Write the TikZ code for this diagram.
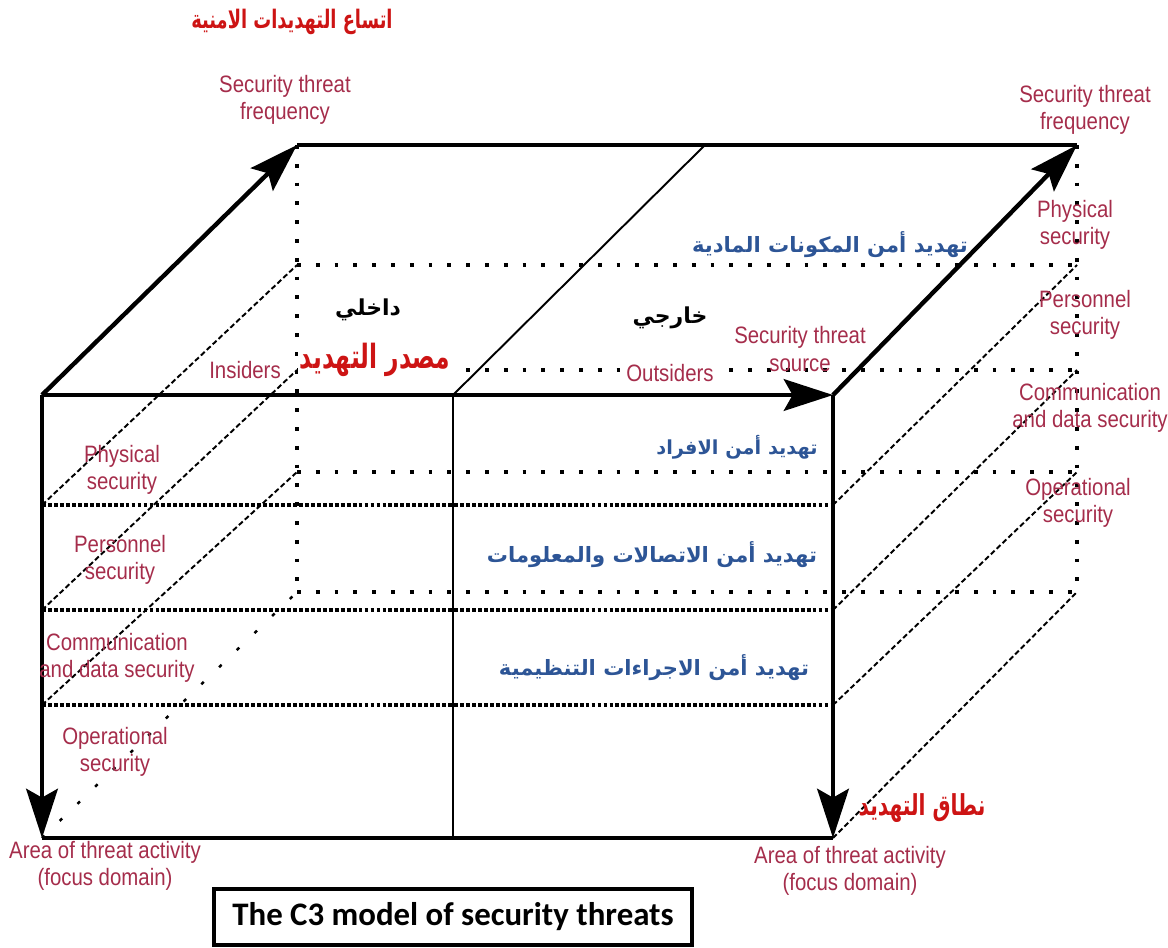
\documentclass[tikz,border=0pt]{standalone}
\usepackage{fontspec}
\usetikzlibrary{arrows.meta}
\setmainfont{Liberation Sans}
\newfontfamily\lblfont[FakeStretch=0.86]{Liberation Sans}
\newfontfamily\arfont[Script=Arabic]{DejaVu Sans}
\newfontfamily\arnarrow[Script=Arabic,FakeStretch=0.7]{DejaVu Sans}
\newfontfamily\capfont{Carlito}
\TeXXeTstate=1

\newlength{\du}
\setlength{\du}{0.02cm}

\definecolor{lblcolor}{RGB}{165,45,75}
\definecolor{arblue}{RGB}{45,85,150}
\definecolor{arred}{RGB}{205,20,20}

\tikzset{
  edgebold/.style={line width=2.5pt},
  edgehead/.style={edgebold,-{Stealth[length=28pt,width=18pt,inset=5pt]}},
  edgethin/.style={line width=1.1pt},
  rowfront/.style={line width=1.8pt,dash pattern=on 2.2pt off 1.2pt},
  rowback/.style={line width=2pt,dash pattern=on 2.2pt off 8.5pt},
  depthline/.style={line width=1.1pt,dash pattern=on 3pt off 1.6pt},
  lbl/.style={text=lblcolor,font=\lblfont\fontsize{13.5}{15.5}\selectfont,align=center,inner sep=1pt},
  arblu/.style={text=arblue,font=\arfont\bfseries\fontsize{12}{14}\selectfont,inner sep=1pt},
  arblk/.style={text=black,font=\arfont\bfseries\fontsize{12.5}{14}\selectfont,inner sep=1pt},
  arrd/.style={text=arred,font=\arnarrow\bfseries\fontsize{14}{16}\selectfont,inner sep=1pt}
}

\begin{document}
\begin{tikzpicture}
\pgftransformxscale{1.000000}
\pgftransformyscale{-1.000000}
\useasboundingbox (0\du,0\du) rectangle (1168\du,947\du);
% corners of the cube
\coordinate (ftl) at (42\du,395\du);
\coordinate (ftr) at (833\du,395\du);
\coordinate (fbl) at (42\du,838\du);
\coordinate (fbr) at (833\du,838\du);
\coordinate (btl) at (297\du,145\du);
\coordinate (btr) at (1077\du,145\du);
\coordinate (bbl) at (297\du,592\du);
\coordinate (bbr) at (1077\du,592\du);
\coordinate (fmt) at (453\du,395\du);
\coordinate (fmb) at (453\du,838\du);
\coordinate (bmt) at (705\du,145\du);
% rows
\foreach \i/\fy/\by in {1/505/265,2/610/370,3/705/472}{
  \coordinate (fl\i) at (42\du,\fy\du);
  \coordinate (fr\i) at (833\du,\fy\du);
  \coordinate (bl\i) at (297\du,\by\du);
  \coordinate (br\i) at (1077\du,\by\du);
  \draw[rowfront] (fl\i) -- (fr\i);
  \draw[rowback] (bl\i) -- (br\i);
  \draw[depthline] (fl\i) -- (bl\i);
  \draw[depthline] (fr\i) -- (br\i);
}
\draw[rowback] (btl) -- (bbl);
\draw[rowback] (btr) -- (bbr);
\draw[rowback] (bbl) -- (bbr);
\draw[line width=1.4pt,dash pattern=on 2pt off 12pt] (fbl) -- (bbl);
\draw[depthline] (fbr) -- (bbr);
% divider
\draw[edgethin] (fmt) -- (fmb);
\draw[edgethin] (fmt) -- (bmt);
% bold edges
\draw[edgebold] (btl) -- (btr);
\draw[edgebold] (fbl) -- (fbr);
\draw[edgehead] (ftl) -- (ftr);
\draw[edgehead] (ftl) -- (btl);
\draw[edgehead] (ftr) -- (btr);
\draw[edgehead] (ftl) -- (fbl);
\draw[edgehead] (ftr) -- (fbr);
% labels
\node[arrd,font=\arnarrow\bfseries\fontsize{14.5}{17}\selectfont] (widthAr) at (292\du,22\du) {\beginR اتساع التهديدات الامنية\endR};
\node[lbl] (freqL) at (285\du,100\du) {Security threat\\frequency};
\node[lbl] (freqR) at (1085\du,110\du) {Security threat\\frequency};
\node[lbl] (physR) at (1075\du,225\du) {Physical\\security};
\node[lbl] (persR) at (1085\du,315\du) {Personnel\\security};
\node[lbl] (commR) at (1090\du,408\du) {Communication\\and data security};
\node[lbl] (operR) at (1078\du,503\du) {Operational\\security};
\node[lbl] (physL) at (122\du,470\du) {Physical\\security};
\node[lbl] (persL) at (120\du,560\du) {Personnel\\security};
\node[lbl] (commL) at (117\du,658\du) {Communication\\and data security};
\node[lbl] (operL) at (115\du,752\du) {Operational\\security};
\node[lbl] (areaL) at (105\du,866\du) {Area of threat activity\\(focus domain)};
\node[lbl] (areaR) at (850\du,871\du) {Area of threat activity\\(focus domain)};
\node[lbl] (srcE) at (800\du,349\du) {Security threat\\source};
\node[lbl,fill=white] (insiders) at (245\du,370\du) {Insiders};
\node[lbl,fill=white] (outsiders) at (670\du,373\du) {Outsiders};
\node[arblk] (inAr) at (368\du,310\du) {\beginR داخلي\endR};
\node[arblk] (outAr) at (670\du,318\du) {\beginR خارجي\endR};
\node[arrd,fill=white,font=\arnarrow\bfseries\fontsize{19}{21}\selectfont] (srcAr) at (375\du,360\du) {\beginR مصدر التهديد\endR};
\node[arrd,font=\arnarrow\bfseries\fontsize{16.4}{19}\selectfont] (scopeAr) at (922\du,808\du) {\beginR نطاق التهديد\endR};
\node[arblu] (physAr) at (830\du,245\du) {\beginR تهديد أمن المكونات المادية\endR};
\node[arblu,font=\arfont\bfseries\fontsize{11}{13}\selectfont] (persAr) at (737\du,447\du) {\beginR تهديد أمن الافراد\endR};
\node[arblu] (commAr) at (652\du,555\du) {\beginR تهديد أمن الاتصالات والمعلومات\endR};
\node[arblu] (operAr) at (654\du,668\du) {\beginR تهديد أمن الاجراءات التنظيمية\endR};
% caption
\node[draw,line width=2.2pt,minimum width=478\du,minimum height=56\du,font=\capfont\bfseries\fontsize{18.7}{21}\selectfont] (caption) at (453\du,917\du) {The C3 model of security threats};
\end{tikzpicture}
\end{document}
